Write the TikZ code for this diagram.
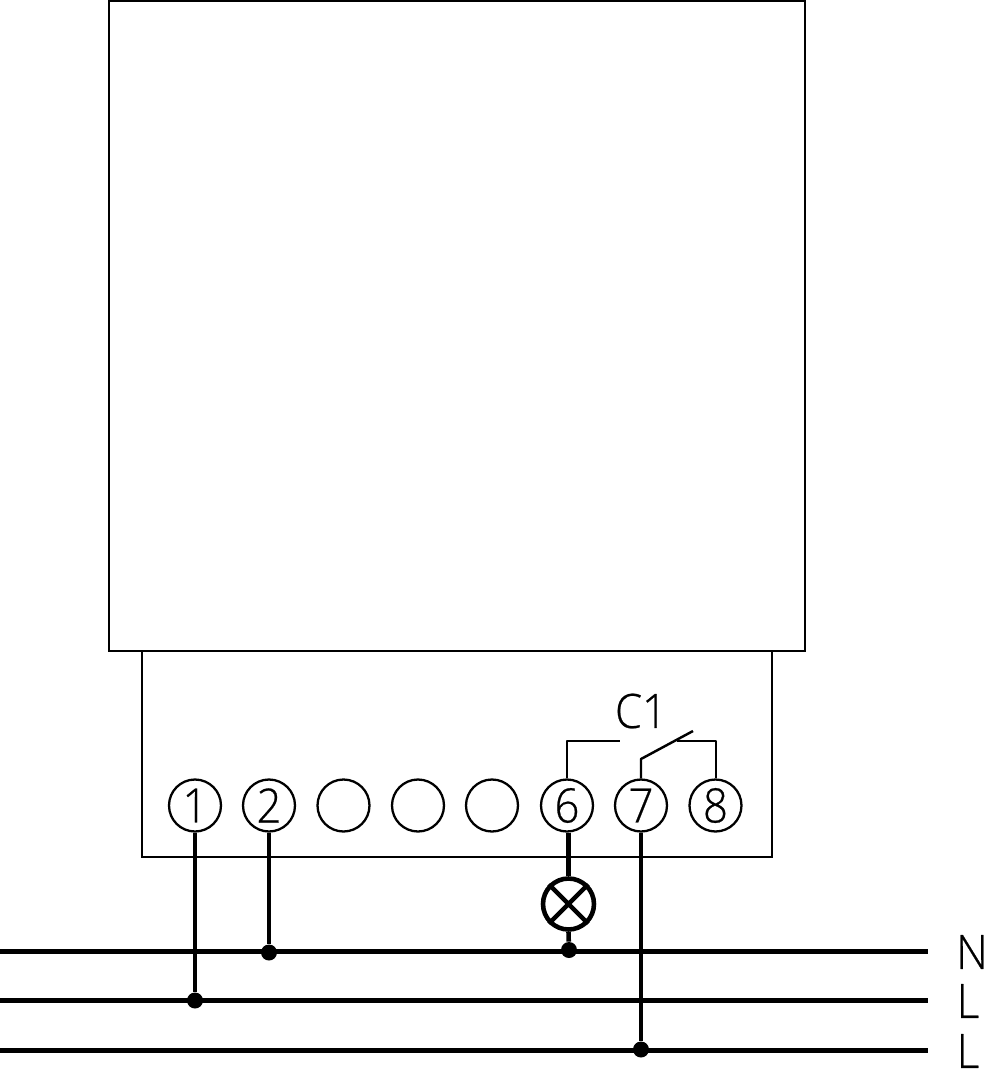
\documentclass[tikz,border=0pt]{standalone}
\usepackage{fontspec}
\setmainfont[FakeStretch=0.92,FakeBold=0.5]{Open Sans Light}
\tikzset{
  box/.style={draw,line width=1.3pt,line join=miter},
  term/.style={circle,draw,line width=1.3pt,minimum size=1.04cm,inner sep=0pt,font=\fontsize{27}{27}\selectfont},
  wire/.style={line width=2.6pt},
  thin wire/.style={line width=1.4pt},
  dot/.style={circle,fill=black,minimum size=.32cm,inner sep=0pt},
  lamp/.style={circle,draw,line width=2.6pt,minimum size=1.02cm,inner sep=0pt},
  tag/.style={font=\fontsize{27}{27}\selectfont,inner sep=0pt}
}
\begin{document}
\begin{tikzpicture}[x=0.02cm,y=-0.02cm,line join=round]
    \useasboundingbox (0,0) rectangle (987,1080);
    \draw[box] (109,1) rectangle (805,651);
    \draw[box] (142,651) rectangle (772,857);
    % terminals
    \foreach \x/\n/\t in {195/1/1,269/2/2,343.5/3/,418/4/,492/5/,567/6/6,641/7/7,715.5/8/8}
        \node[term] (t\n) at (\x,805.5) {\t};
    % rails
    \coordinate (nleft) at (0,951.5);
    \coordinate (nright) at (928,951.5);
    \coordinate (aleft) at (0,1000.5);
    \coordinate (aright) at (928,1000.5);
    \coordinate (bleft) at (0,1050.5);
    \coordinate (bright) at (928,1050.5);
    \draw[wire] (nleft)--(nright);
    \draw[wire] (aleft)--(aright);
    \draw[wire] (bleft)--(bright);
    \node[tag] (ln) at (972,952) {N};
    \node[tag] (la) at (968,1001) {L};
    \node[tag] (lb) at (968,1051) {L};
    % junctions
    \node[dot] (d1) at (195,1000.5) {};
    \node[dot] (d2) at (269,952.5) {};
    \node[dot] (d6) at (569,950) {};
    \node[dot] (d7) at (641,1049.5) {};
    \draw[wire] (t1)--(d1);
    \draw[wire] (t2)--(d2);
    \draw[wire] (t7)--(d7);
    % lamp
    \node[lamp] (lamp) at (568.5,904) {};
    \draw[wire] (lamp.45)--(lamp.225) (lamp.135)--(lamp.315);
    \draw[wire] (t6.south-|lamp)--(lamp.north);
    \draw[wire] (lamp.south)--(d6);
    % contact
    \coordinate (c6) at (567,741);
    \coordinate (c6end) at (620,741);
    \coordinate (c7) at (641,759);
    \coordinate (c7end) at (693,731);
    \coordinate (c8) at (716,741);
    \coordinate (c8end) at (677,741);
    \draw[thin wire] (t6)--(c6)--(c6end);
    \draw[thin wire] (t7)--(c7)--(c7end);
    \draw[thin wire] (t8.north-|c8)--(c8)--(c8end);
    \node[tag] (c1) at (641,711) {C1};
\end{tikzpicture}
\end{document}
